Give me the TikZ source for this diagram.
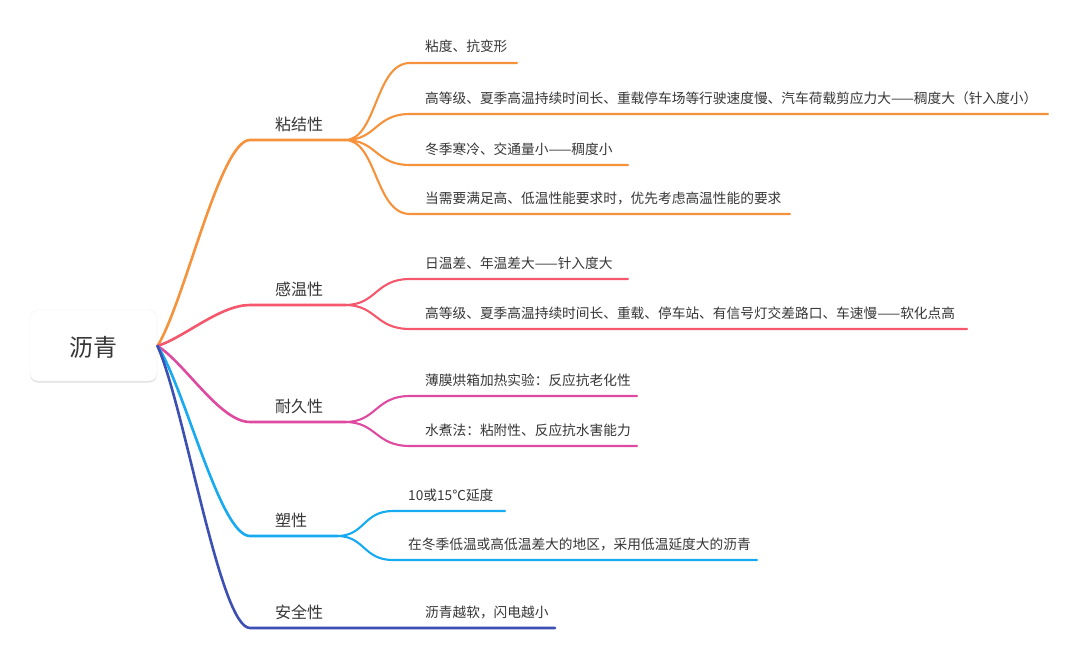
\documentclass[tikz,border=0pt]{standalone}
\usepackage{fontspec}
\newfontfamily\cjk{Noto Sans CJK SC}
\usetikzlibrary{shadows}
\definecolor{cO}{HTML}{F7923C}
\definecolor{cR}{HTML}{F5586C}
\definecolor{cM}{HTML}{DE4AA0}
\definecolor{cC}{HTML}{16AAF0}
\definecolor{cB}{HTML}{3C50B4}
\definecolor{txt}{HTML}{363636}
\begin{document}
\begin{tikzpicture}[x=1pt,y=-1pt,
  leaf/.style={anchor=base west, inner sep=0pt, font=\cjk\fontsize{13.7}{16}\selectfont, text=txt},
  lab/.style={anchor=base west, inner sep=0pt, font=\cjk\fontsize{16}{19}\selectfont, text=txt},
  br/.style={line width=2.6pt, line cap=round},
  lf/.style={line width=2.1pt, line cap=round}]
\useasboundingbox (0,0) rectangle (1080,661);
\fill[white] (0,0) rectangle (1080,661);
% root
\node[fill=white, draw=black!5, rounded corners=8pt, minimum width=127pt, minimum height=71pt,
      drop shadow={shadow xshift=0pt, shadow yshift=-1.5pt, opacity=0.12, fill=black}] (rootbox) at (93.5,345.5) {};
\node[font=\cjk\fontsize{24}{28}\selectfont, text=txt, inner sep=0pt] (root) at (93.5,347) {沥青};
\coordinate (r) at (157.5,346);

% branch labels
\node[lab] (b1) at (275,130) {粘结性};
\node[lab] (b2) at (275,295) {感温性};
\node[lab] (b3) at (275,412) {耐久性};
\node[lab] (b4) at (275,526) {塑性};
\node[lab] (b5) at (275,618) {安全性};

% junctions
\coordinate (s1) at (250,140); \coordinate (j1) at (345,140);
\coordinate (s2) at (250,305); \coordinate (j2) at (345,305);
\coordinate (s3) at (250,422); \coordinate (j3) at (345,422);
\coordinate (s4) at (250,536); \coordinate (j4) at (337,536);
\coordinate (s5) at (250,628); \coordinate (e5) at (555,628);

% main connectors
\draw[br,cO] (r) .. controls (185,301) and (220,140) .. (s1) -- (j1);
\draw[br,cR] (r) .. controls (185,337) and (220,305) .. (s2) -- (j2);
\draw[br,cM] (r) .. controls (185,363) and (220,422) .. (s3) -- (j3);
\draw[br,cC] (r) .. controls (185,388) and (220,536) .. (s4) -- (j4);
\draw[br,cB] (r) .. controls (185,408) and (220,628) .. (s5) -- (e5);

% leaves: 粘结性
\node[leaf] (l11) at (425,52) {粘度、抗变形};
\node[leaf] (l12) at (425,103) {高等级、夏季高温持续时间长、重载停车场等行驶速度慢、汽车荷载剪应力大——稠度大（针入度小）};
\node[leaf] (l13) at (425,154) {冬季寒冷、交通量小——稠度小};
\node[leaf] (l14) at (425,203) {当需要满足高、低温性能要求时，优先考虑高温性能的要求};
\draw[lf,cO] (j1) .. controls +(32,0) and +(-35,0) .. (410,63) -- (517,63);
\draw[lf,cO] (j1) .. controls +(32,0) and +(-35,0) .. (410,114) -- (1048,114);
\draw[lf,cO] (j1) .. controls +(32,0) and +(-35,0) .. (410,165) -- (628,165);
\draw[lf,cO] (j1) .. controls +(32,0) and +(-35,0) .. (410,214) -- (790,214);

% 感温性
\node[leaf] (l21) at (425,268) {日温差、年温差大——针入度大};
\node[leaf] (l22) at (425,318) {高等级、夏季高温持续时间长、重载、停车站、有信号灯交差路口、车速慢——软化点高};
\draw[lf,cR] (j2) .. controls +(32,0) and +(-35,0) .. (410,279) -- (628,279);
\draw[lf,cR] (j2) .. controls +(32,0) and +(-35,0) .. (410,329) -- (967,329);

% 耐久性
\node[leaf] (l31) at (425,385) {薄膜烘箱加热实验：反应抗老化性};
\node[leaf] (l32) at (425,435) {水煮法：粘附性、反应抗水害能力};
\draw[lf,cM] (j3) .. controls +(32,0) and +(-35,0) .. (410,396) -- (637,396);
\draw[lf,cM] (j3) .. controls +(32,0) and +(-35,0) .. (410,446) -- (637,446);

% 塑性
\node[leaf] (l41) at (408,500) {10或15℃延度};
\node[leaf] (l42) at (408,549) {在冬季低温或高低温差大的地区，采用低温延度大的沥青};
\draw[lf,cC] (j4) .. controls +(28,0) and +(-30,0) .. (393,511) -- (505,511);
\draw[lf,cC] (j4) .. controls +(28,0) and +(-30,0) .. (393,560) -- (757,560);

% 安全性
\node[leaf] (l51) at (425,617) {沥青越软，闪电越小};
\end{tikzpicture}
\end{document}
